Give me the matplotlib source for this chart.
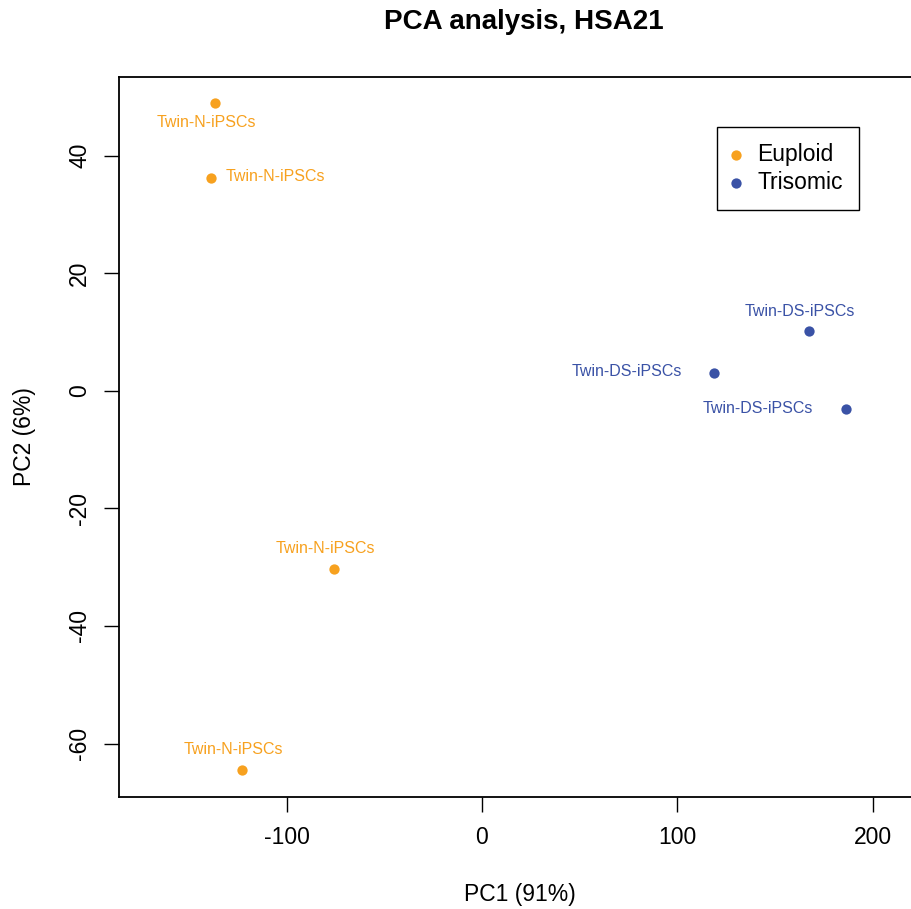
import matplotlib
matplotlib.use("Agg")
import matplotlib.pyplot as plt

# Datos (PC1, PC2)
eu_pc1 = [-136.6, -138.6, -75.7, -122.8]
eu_pc2 = [48.9, 36.3, -30.3, -64.5]
tri_pc1 = [167.3, 118.7, 186.2]
tri_pc2 = [10.2, 3.1, -3.1]
eu_names = ["Twin-N-iPSCs"] * 4
tri_names = ["Twin-DS-iPSCs"] * 3

# desplazamiento de etiquetas en pixeles
eu_off = [(-9, -19, "center"), (15, 1, "left"), (-9, 20, "center"), (-9, 20, "center")]
tri_off = [(-9, 19, "center"), (-32, 1, "right"), (-33, 1, "right")]

c_eu = "#F7A11F"
c_tri = "#3A52A6"

plt.rcParams["font.family"] = ["Liberation Sans", "DejaVu Sans"]
plt.rcParams["axes.unicode_minus"] = False

W, H = 912, 909
fig = plt.figure(figsize=(W / 100, H / 100), dpi=100)
ax = fig.add_axes([119 / W, 1 - 797 / H, (921 - 119) / W, (797 - 77) / H])

ax.scatter(eu_pc1, eu_pc2, s=55, color=c_eu, zorder=3, label="Euploid", linewidths=0)
ax.scatter(tri_pc1, tri_pc2, s=55, color=c_tri, zorder=3, label="Trisomic", linewidths=0)

for x, y, n, (dx, dy, ha) in zip(eu_pc1, eu_pc2, eu_names, eu_off):
    ax.annotate(n, (x, y), xytext=(dx, dy), textcoords="offset pixels",
                ha=ha, va="center", color=c_eu, fontsize=11.5)
for x, y, n, (dx, dy, ha) in zip(tri_pc1, tri_pc2, tri_names, tri_off):
    ax.annotate(n, (x, y), xytext=(dx, dy), textcoords="offset pixels",
                ha=ha, va="center", color=c_tri, fontsize=11.5)

ax.set_xlim(-185.7, 224.6)
ax.set_ylim(-69.1, 53.4)
ax.set_xticks([-100, 0, 100, 200])
ax.set_yticks([-60, -40, -20, 0, 20, 40])
ax.tick_params(direction="out", length=11, width=1, labelsize=16.5)
ax.tick_params(axis="x", pad=10)
ax.tick_params(axis="y", pad=9)
for lab in ax.get_yticklabels():
    lab.set_rotation(90)
    lab.set_va("center")
for s in ax.spines.values():
    s.set_linewidth(1.3)

ax.set_xlabel("PC1 (91%)", fontsize=16.5, labelpad=24)
ax.set_ylabel("PC2 (6%)", fontsize=16.5, labelpad=23)
fig.text(524 / W, 1 - 22 / H, "PCA analysis, HSA21", ha="center", va="center",
         fontsize=20, fontweight="bold")

leg = ax.legend(loc="upper left", bbox_to_anchor=(717 / W, 1 - 127 / H),
                bbox_transform=fig.transFigure, borderaxespad=0, fancybox=False,
                edgecolor="black", framealpha=1, fontsize=16.5, handletextpad=0.75,
                handlelength=0.3, borderpad=0.7, labelspacing=0.22, scatterpoints=1)
leg.get_frame().set_linewidth(1.0)

fig.savefig("out.png", dpi=100)
